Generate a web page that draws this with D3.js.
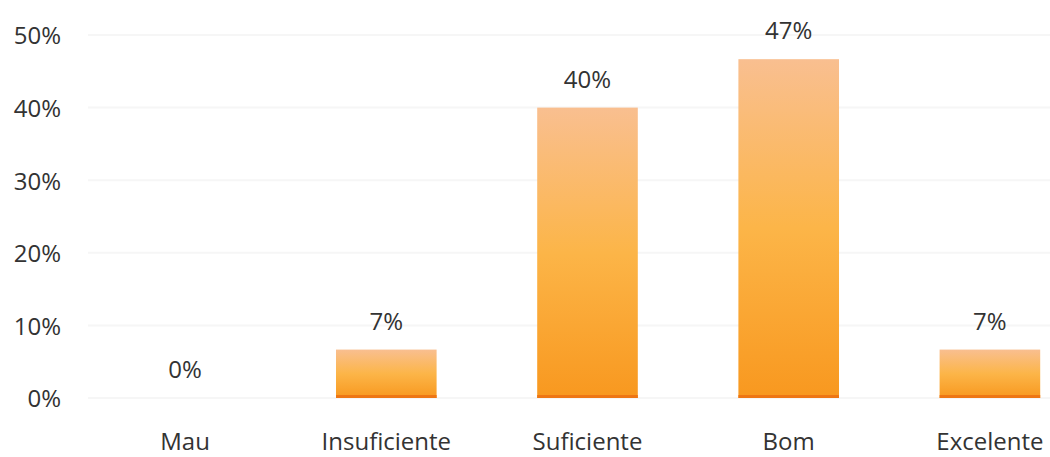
<!DOCTYPE html>
<html><head><meta charset="utf-8">
<script src="https://cdn.jsdelivr.net/npm/d3@7/dist/d3.min.js"></script>
<style>
html,body{margin:0;padding:0;background:#fff;overflow:hidden}
text{font-family:"Open Sans","Noto Sans",sans-serif;fill:#333}
</style></head>
<body>
<svg id="chart" width="1050" height="457"></svg>
<script>
const categories = ["Mau","Insuficiente","Suficiente","Bom","Excelente"];
const values = [0, 6.67, 40, 46.67, 6.67];
const valueLabels = ["0%","7%","40%","47%","7%"];
const yTicks = [0,10,20,30,40,50];
const yTickLabels = ["0%","10%","20%","30%","40%","50%"];

const svg = d3.select("#chart");
const x = d3.scaleBand().domain(categories).range([84.5, 1090.5]).paddingInner(0.5).paddingOuter(0.25);
const y = d3.scaleLinear().domain([0,50]).range([398, 35]);

const defs = svg.append("defs");
const g = defs.append("linearGradient").attr("id","barGrad").attr("x1",0).attr("y1",0).attr("x2",0).attr("y2",1);
g.append("stop").attr("offset","0%").attr("stop-color","#f9bf90");
g.append("stop").attr("offset","50%").attr("stop-color","#fcb548");
g.append("stop").attr("offset","100%").attr("stop-color","#f8981f");

// gridlines
svg.append("g").selectAll("line").data(yTicks).join("line")
  .attr("x1", 88).attr("x2", 1050)
  .attr("y1", d=>y(d)).attr("y2", d=>y(d))
  .attr("stroke","#f6f6f6").attr("stroke-width",2);

// y labels
svg.append("g").selectAll("text").data(yTicks).join("text")
  .attr("x", 61).attr("y", d=>y(d)+3)
  .attr("text-anchor","end").attr("dominant-baseline","middle")
  .attr("font-size",24)
  .text((d,i)=>yTickLabels[i]);

// bars
const bw = x.bandwidth();
const bars = svg.append("g");
bars.selectAll("rect.bar").data(values).join("rect").attr("class","bar")
  .attr("x",(d,i)=>x(categories[i]))
  .attr("y",d=>y(d))
  .attr("width",bw)
  .attr("height",d=>y(0)-y(d))
  .attr("fill","url(#barGrad)");
bars.selectAll("rect.base").data(values.map((v,i)=>({v,i})).filter(o=>o.v>0)).join("rect").attr("class","base")
  .attr("x",o=>x(categories[o.i]))
  .attr("y",y(0)-3)
  .attr("width",bw).attr("height",3)
  .attr("fill","#ee7614");

// value labels
svg.append("g").selectAll("text").data(values).join("text")
  .attr("x",(d,i)=>x(categories[i])+bw/2)
  .attr("y",d=>y(d)-20)
  .attr("text-anchor","middle").attr("font-size",24)
  .text((d,i)=>valueLabels[i]);

// category labels
svg.append("g").selectAll("text").data(categories).join("text")
  .attr("x",d=>x(d)+bw/2).attr("y",450)
  .attr("text-anchor","middle").attr("font-size",24)
  .text(d=>d);
</script>
</body></html>
